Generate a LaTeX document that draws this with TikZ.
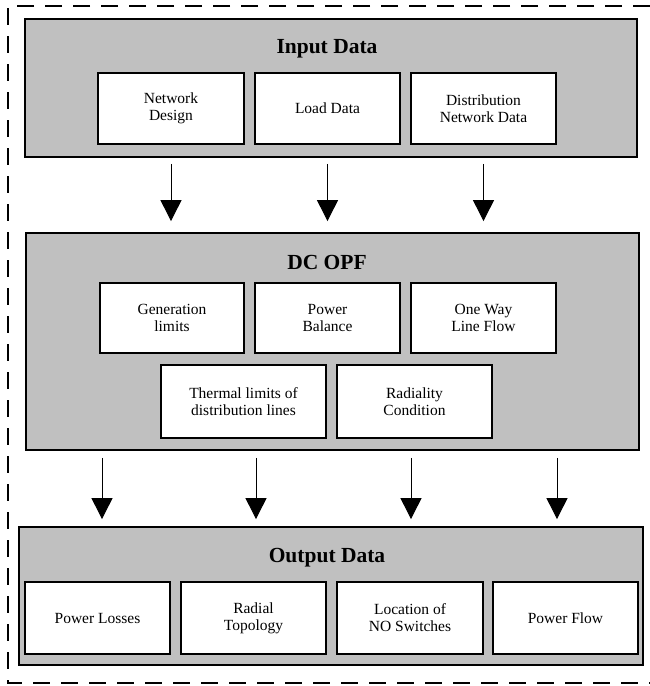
\documentclass[tikz,border=0pt]{standalone}
\usepackage{fontspec}
\setmainfont{Liberation Serif}
\usetikzlibrary{arrows.meta}
\definecolor{panelgray}{RGB}{192,192,192}

\begin{document}
\begin{tikzpicture}[x=1pt, y=-1pt,
  panel/.style={rectangle, draw, line width=1.8pt, fill=panelgray, anchor=center},
  title/.style={font=\fontsize{21.5}{24}\selectfont\bfseries},
  item/.style={rectangle, draw, line width=1.8pt, fill=white, align=center,
               font=\fontsize{15.5}{17}\selectfont},
  arrow/.style={-{Triangle[width=21pt, length=21pt]}, line width=0.9pt},
  frame/.style={dashed, line width=1.6pt, dash pattern=on 17pt off 11pt}
]
  \useasboundingbox (0,0) rectangle (650,686);

  % outer dashed frame
  \draw[frame] (650,6) -- (8,6) -- (8,683) -- (650,683);

  % Input Data
  \node[panel, minimum width=612pt, minimum height=138pt] (inp) at (331,88) {};
  \node[title] (inpt) at (327,49) {Input Data};
  \node[item, minimum width=146pt, minimum height=71pt] (ndes) at (171,108.5) {Network\\Design};
  \node[item, minimum width=145pt, minimum height=71pt] (load) at (327.5,108.5) {Load Data};
  \node[item, minimum width=145pt, minimum height=71pt] (dnd) at (483.5,108.5) {Distribution\\Network Data};

  % DC OPF
  \node[panel, minimum width=613pt, minimum height=217pt] (opf) at (332.5,341.5) {};
  \node[title] (opft) at (327,262) {DC OPF};
  \node[item, minimum width=144pt, minimum height=70pt] (gen) at (172,318) {Generation\\limits};
  \node[item, minimum width=145pt, minimum height=70pt] (bal) at (327.5,318) {Power\\Balance};
  \node[item, minimum width=145pt, minimum height=70pt] (flow) at (483.5,318) {One Way\\Line Flow};
  \node[item, minimum width=165pt, minimum height=73pt] (therm) at (243.5,401.5) {Thermal limits of\\distribution lines};
  \node[item, minimum width=155pt, minimum height=73pt] (rad) at (414.5,401.5) {Radiality\\Condition};

  % Output Data
  \node[panel, minimum width=624pt, minimum height=138pt] (outp) at (331,596) {};
  \node[title] (outpt) at (327,558) {Output Data};
  \node[item, minimum width=145pt, minimum height=72pt] (loss) at (97.5,618) {Power Losses};
  \node[item, minimum width=145pt, minimum height=72pt] (topo) at (253.5,618) {Radial\\Topology};
  \node[item, minimum width=146pt, minimum height=72pt] (nosw) at (410,618) {Location of\\NO Switches};
  \node[item, minimum width=145pt, minimum height=72pt] (pflow) at (565.5,618) {Power Flow};

  % arrows
  \foreach \n in {ndes, load, dnd}
    \draw[arrow] ([yshift=-6pt]inp.south -| \n) -- ([yshift=11pt]opf.north -| \n);
  \foreach \n/\dx in {loss/4.5, topo/2.5, nosw/1, pflow/-8.5}
    \draw[arrow] ([xshift=\dx pt, yshift=-7pt]opf.south -| \n) -- ([xshift=\dx pt, yshift=7pt]outp.north -| \n);
\end{tikzpicture}
\end{document}
